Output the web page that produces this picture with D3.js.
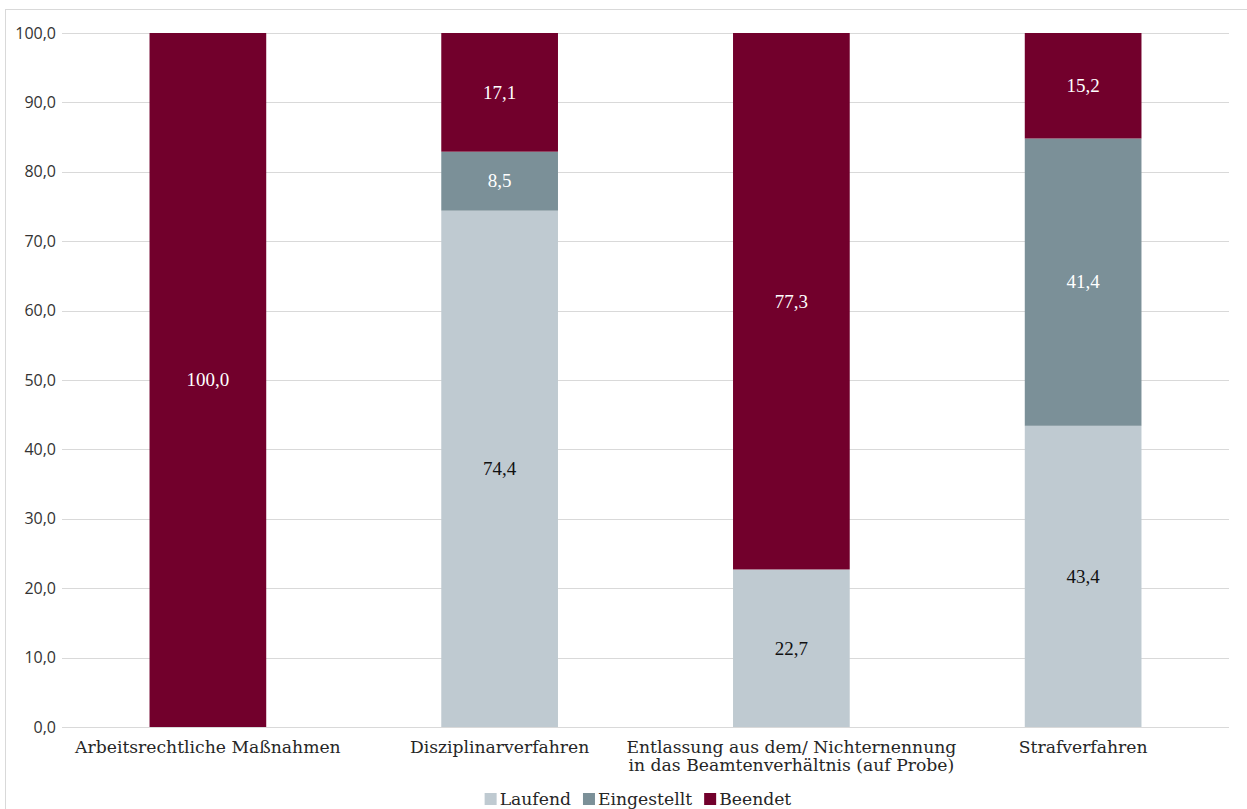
<!DOCTYPE html>
<html>
<head>
<meta charset="utf-8">
<script src="https://cdn.jsdelivr.net/npm/d3@7"></script>
<style>
  html, body { margin: 0; padding: 0; background: #fff; }
  svg { display: block; }
</style>
</head>
<body>
<svg id="chart" width="1247" height="809"></svg>
<script>
// Kategorien (Verfahrensart) – mehrzeilige Beschriftung als Zeilenliste
const categories = [
  ["Arbeitsrechtliche Maßnahmen"],
  ["Disziplinarverfahren"],
  ["Entlassung aus dem/ Nichternennung", "in das Beamtenverhältnis (auf Probe)"],
  ["Strafverfahren"]
];
const seriesNames = ["Laufend", "Eingestellt", "Beendet"];
const laufend     = [0, 74.4, 22.7, 43.4];
const eingestellt = [0, 8.5, 0, 41.4];
const beendet     = [100.0, 17.1, 77.3, 15.2];
const yTicks = [0, 10, 20, 30, 40, 50, 60, 70, 80, 90, 100];

const colors = { "Laufend": "#bfcad1", "Eingestellt": "#7b9098", "Beendet": "#72002c" };
const labelColors = { "Laufend": "#111111", "Eingestellt": "#ffffff", "Beendet": "#ffffff" };

const svg = d3.select("#chart");
const W = 1247, H = 809;
const margin = { left: 62, right: 18, top: 33, bottom: 82 };
const plotW = W - margin.left - margin.right;
const plotH = H - margin.top - margin.bottom;

// Rahmen um den Diagrammbereich
svg.append("rect")
  .attr("x", 5.5).attr("y", 9.5)
  .attr("width", W + 10).attr("height", H + 10)
  .attr("fill", "none").attr("stroke", "#d9d9d9").attr("stroke-width", 1);

const g = svg.append("g").attr("transform", `translate(${margin.left},${margin.top})`);

const x = d3.scaleBand().domain(d3.range(categories.length)).range([0, plotW]).paddingInner(0.6).paddingOuter(0.3);
const y = d3.scaleLinear().domain([0, 100]).range([plotH, 0]);

// Gitterlinien
g.append("g").selectAll("line").data(yTicks).join("line")
  .attr("x1", 0).attr("x2", plotW)
  .attr("y1", d => Math.round(y(d)) + 0.5).attr("y2", d => Math.round(y(d)) + 0.5)
  .attr("stroke", "#d9d9d9").attr("stroke-width", 1);

// Y-Achse
const fmt = d => d3.format(".1f")(d).replace(".", ",");
const yAxis = g.append("g").call(d3.axisLeft(y).tickValues(yTicks).tickFormat(fmt).tickSize(0).tickPadding(6));
yAxis.select(".domain").remove();
yAxis.selectAll("text")
  .attr("font-family", "'Open Sans', 'Liberation Sans', sans-serif")
  .attr("font-size", "16px")
  .attr("fill", "#333333");

// Gestapelte Balken
const rows = categories.map((c, i) => ({ i, Laufend: laufend[i], Eingestellt: eingestellt[i], Beendet: beendet[i] }));
const stack = d3.stack().keys(seriesNames)(rows);

const layers = g.append("g").selectAll("g").data(stack).join("g")
  .attr("fill", d => colors[d.key]);

layers.selectAll("rect").data(d => d.map(v => ({ v, key: d.key }))).join("rect")
  .attr("x", d => x(d.v.data.i))
  .attr("width", x.bandwidth())
  .attr("y", d => y(d.v[1]))
  .attr("height", d => y(d.v[0]) - y(d.v[1]));

// Datenbeschriftungen
const labels = [];
stack.forEach(layer => layer.forEach(v => {
  const val = v.data[layer.key];
  if (val > 0) labels.push({ key: layer.key, val, i: v.data.i, mid: (v[0] + v[1]) / 2 });
}));
g.append("g").selectAll("text").data(labels).join("text")
  .attr("x", d => x(d.i) + x.bandwidth() / 2)
  .attr("y", d => y(d.mid))
  .attr("dy", "0.33em")
  .attr("text-anchor", "middle")
  .attr("font-family", "'Liberation Serif', serif")
  .attr("font-size", "19px")
  .attr("fill", d => labelColors[d.key])
  .text(d => fmt(d.val));

// Kategorienbeschriftungen
const catG = g.append("g").selectAll("text").data(categories).join("text")
  .attr("x", (d, i) => x(i) + x.bandwidth() / 2)
  .attr("y", plotH + 26)
  .attr("text-anchor", "middle")
  .attr("font-family", "'DejaVu Serif', serif")
  .attr("font-size", "17.2px")
  .attr("fill", "#262626");
catG.selectAll("tspan").data(d => d).join("tspan")
  .attr("x", function () { return d3.select(this.parentNode).attr("x"); })
  .attr("dy", (d, j) => j === 0 ? 0 : 18)
  .text(d => d);

// Legende
const gap = 12;
const legend = svg.append("g").attr("font-family", "'DejaVu Serif', serif").attr("font-size", "17.2px").attr("fill", "#262626");
let lx = 0;
const items = legend.selectAll("g").data(seriesNames).join("g");
items.append("rect").attr("width", 12).attr("height", 12).attr("y", -12).attr("fill", d => colors[d]);
items.append("text").attr("x", 15).attr("y", 0).text(d => d);
items.each(function () {
  const bb = this.getBBox();
  d3.select(this).attr("transform", `translate(${lx},0)`);
  lx += bb.width + gap;
});
legend.attr("transform", `translate(${638 - (lx - gap) / 2},805)`);
</script>
</body>
</html>
